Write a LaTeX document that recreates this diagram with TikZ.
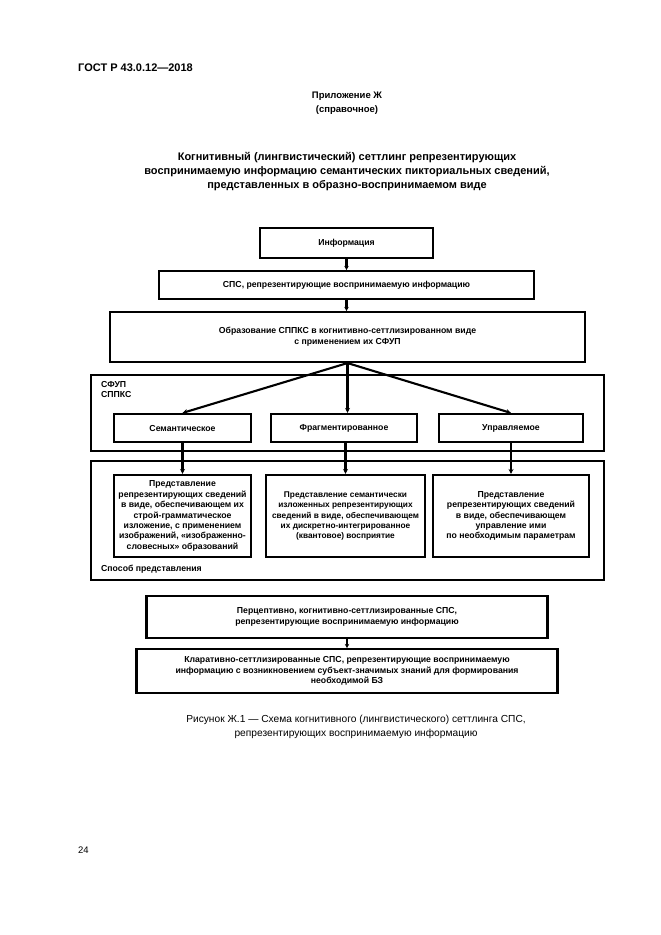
\documentclass[tikz,border=0pt]{standalone}
\usepackage{fontspec}
\setmainfont{Liberation Sans}
\usetikzlibrary{arrows.meta}
\newcommand\bxf{\fontsize{8.7}{10.4}\selectfont\bfseries}
\newcommand\bxs{\fontsize{8.3}{10.4}\selectfont\bfseries}
\begin{document}
\begin{tikzpicture}[x=1pt,y=-1pt,
  bx/.style={draw, line width=2.1pt, inner sep=0pt, align=center, font=\bxf},
  outerbox/.style={draw, line width=2.8pt},
  arr/.style={line width=2.1pt, -{Stealth[length=5pt,width=5pt]}},
  sarr/.style={line width=2.1pt, -{Stealth[length=4pt,width=4.5pt]}},
  lbl/.style={inner sep=0pt, font=\bxf, align=left}]
\useasboundingbox (0,0) rectangle (661,935);

\node[inner sep=0pt, anchor=west, font=\fontsize{11}{12}\selectfont\bfseries] (hdr) at (78,68) {ГОСТ Р 43.0.12—2018};
\node[inner sep=0pt, align=center, font=\fontsize{9.5}{14}\selectfont\bfseries] (app) at (347,103) {Приложение Ж\\(справочное)};
\node[inner sep=0pt, align=center, font=\fontsize{11}{14}\selectfont\bfseries] (ttl) at (347,172) {Когнитивный (лингвистический) сеттлинг репрезентирующих\\воспринимаемую информацию семантических пикториальных сведений,\\представленных в образно-воспринимаемом виде};

\node[bx, minimum width=173, minimum height=30] (inf) at (346.5,243) {Информация};
\node[bx, minimum width=375, minimum height=28] (sps) at (346.5,285) {СПС, репрезентирующие воспринимаемую информацию};
\node[bx, minimum width=475, minimum height=50] (obr) at (347.5,337) {Образование СППКС в когнитивно-сеттлизированном виде\\[1pt]с применением их СФУП};

\draw[outerbox] (91,375) rectangle (604,451);
\node[lbl, anchor=north west] (sfup) at (101,381) {СФУП\\СППКС};
\node[bx, minimum width=137, minimum height=28] (sem) at (182.5,428) {Семантическое};
\node[bx, minimum width=146, minimum height=28] (frag) at (344,428) {Фрагментированное};
\node[bx, minimum width=144, minimum height=28] (upr) at (511,428) {Управляемое};

\draw[outerbox] (91,461) rectangle (604,580);
\node[bx, minimum width=137, minimum height=82] (pl) at (182.5,516) {Представление\\репрезентирующих сведений\\в виде, обеспечивающем их\\строй-грамматическое\\изложение, с применением\\изображений, «изображенно-\\словесных» образований};
\node[bx, font=\bxs, minimum width=159, minimum height=82] (pm) at (345.5,516) {Представление семантически\\изложенных репрезентирующих\\сведений в виде, обеспечивающем\\их дискретно-интегрированное\\(квантовое) восприятие};
\node[bx, minimum width=156, minimum height=82] (pr) at (511,516) {Представление\\репрезентирующих сведений\\в виде, обеспечивающем\\управление ими\\по необходимым параметрам};
\node[lbl, anchor=west] (sposob) at (101,569) {Способ представления};

\node[bx, minimum width=401, minimum height=42] (perc) at (347,617) {Перцептивно, когнитивно-сеттлизированные СПС,\\репрезентирующие воспринимаемую информацию};
\node[bx, minimum width=421, minimum height=44] (klar) at (347,671) {Кларативно-сеттлизированные СПС, репрезентирующие воспринимаемую\\информацию с возникновением субъект-значимых знаний для формирования\\необходимой БЗ};

\node[inner sep=0pt, align=center, font=\fontsize{10.2}{14}\selectfont] (cap) at (356,727) {Рисунок Ж.1 — Схема когнитивного (лингвистического) сеттлинга СПС,\\репрезентирующих воспринимаемую информацию};
\node[inner sep=0pt, anchor=west, font=\fontsize{9.5}{12}\selectfont] (pg) at (78,850) {24};

\draw[sarr] (inf.south) -- (sps.north);
\draw[sarr] (sps.south) -- (sps.south |- obr.north);
\draw[arr] (obr.south) -- (sem.north);
\draw[arr] (obr.south) -- (frag.north -| obr.south);
\draw[arr] (obr.south) -- (upr.north);
\draw[arr] (sem.south) -- (pl.north);
\draw[arr] (frag.south -| pm.north) -- (pm.north);
\draw[arr] (upr.south) -- (pr.north);
\draw[sarr] (perc.south) -- (klar.north);
\end{tikzpicture}
\end{document}
